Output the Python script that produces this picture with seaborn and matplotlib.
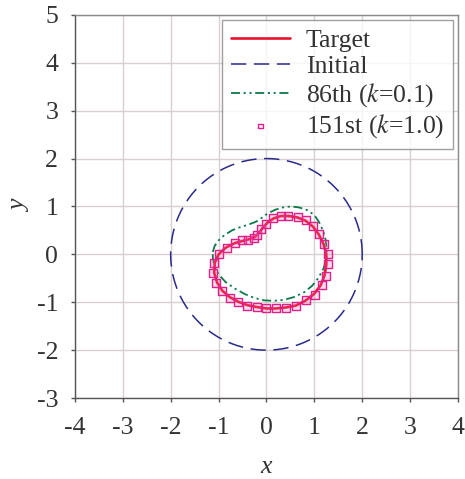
import matplotlib
matplotlib.use("Agg")

import matplotlib.pyplot as plt
import numpy as np
import pandas as pd
import seaborn as sns


# target shape (red line)
target_x = [0.47, 0.65, 0.82, 0.97, 1.09, 1.19, 1.25, 1.25, 1.21, 1.13, 0.99, 0.81,
            0.61, 0.40, 0.20, 0.00, -0.20, -0.40, -0.59, -0.77, -0.92, -1.03, -1.09,
            -1.08, -1.00, -0.85, -0.67, -0.50, -0.35, -0.24, -0.16, -0.08, 0.03, 0.15,
            0.30, 0.47]
target_y = [0.80, 0.77, 0.70, 0.58, 0.42, 0.22, 0.00, -0.22, -0.45, -0.65, -0.83, -0.97,
            -1.07, -1.11, -1.13, -1.13, -1.10, -1.06, -0.99, -0.89, -0.76, -0.59, -0.39,
            -0.18, 0.00, 0.14, 0.23, 0.28, 0.32, 0.36, 0.44, 0.55, 0.67, 0.75,
            0.80, 0.80]

# initial guess: circle around the origin
initial_radius = 2.0
initial_angles = np.linspace(0, 2 * np.pi, 361)

# 86th iteration (k=0.1)
it86_x = [-1.12, -1.08, -1.00, -0.88, -0.72, -0.57, -0.38, -0.22, -0.10, 0.02, 0.18,
          0.35, 0.50, 0.68, 0.86, 1.00, 1.10, 1.18, 1.23, 1.26, 1.25, 1.19, 1.08, 0.95,
          0.79, 0.58, 0.37, 0.15, -0.05, -0.25, -0.45, -0.65, -0.85, -1.00, -1.09,
          -1.12, -1.12]
it86_y = [0.05, 0.18, 0.29, 0.40, 0.50, 0.56, 0.62, 0.68, 0.76, 0.85, 0.93,
          0.98, 1.00, 0.98, 0.92, 0.82, 0.67, 0.50, 0.33, 0.12, -0.10, -0.30, -0.50, -0.66,
          -0.79, -0.89, -0.95, -0.97, -0.96, -0.91, -0.83, -0.72, -0.58, -0.42, -0.23,
          -0.06, 0.05]

# 151st iteration (k=1.0), square markers
it151_x = [0.46, 0.65, 0.82, 0.98, 1.10, 1.21, 1.28, 1.28, 1.24, 1.17, 1.01, 0.82,
           0.61, 0.40, 0.20, -0.01, -0.20, -0.40, -0.59, -0.77, -0.93, -1.05, -1.11,
           -1.09, -0.99, -0.83, -0.66, -0.52, -0.38, -0.26, -0.19, -0.12, -0.01, 0.13,
           0.30]
it151_y = [0.80, 0.78, 0.72, 0.59, 0.43, 0.22, 0.00, -0.21, -0.45, -0.65, -0.84, -0.96,
           -1.08, -1.11, -1.12, -1.12, -1.09, -1.07, -1.00, -0.91, -0.77, -0.59, -0.39,
           -0.18, 0.00, 0.14, 0.24, 0.29, 0.31, 0.34, 0.41, 0.52, 0.64, 0.75,
           0.80]

x_ticks = [-4, -3, -2, -1, 0, 1, 2, 3, 4]
y_ticks = [-3, -2, -1, 0, 1, 2, 3, 4, 5]

FS = 18.5
TEXT = "#333333"


def main():
    sns.set_style("white")
    plt.rcParams["font.family"] = ["Liberation Serif", "DejaVu Serif"]
    plt.rcParams["mathtext.fontset"] = "stix"

    fig = plt.figure(figsize=(4.65, 4.79), dpi=100)
    ax = fig.add_axes([0.161, 0.169, 0.824, 0.8])

    target = pd.DataFrame({"x": target_x, "y": target_y})
    initial = pd.DataFrame({"x": initial_radius * np.cos(initial_angles),
                            "y": initial_radius * np.sin(initial_angles)})
    it86 = pd.DataFrame({"x": it86_x, "y": it86_y})
    it151 = pd.DataFrame({"x": it151_x, "y": it151_y})

    sns.lineplot(data=target, x="x", y="y", sort=False, estimator=None, ax=ax,
                 color="#e8112d", linewidth=1.9, label="Target", zorder=3)
    sns.lineplot(data=initial, x="x", y="y", sort=False, estimator=None, ax=ax,
                 color="#2a2a8c", linewidth=1.1, label="Initial", zorder=2)
    ax.lines[-1].set_dashes((10, 5))
    sns.scatterplot(data=it151, x="x", y="y", ax=ax, marker="s", s=28,
                    facecolor=(0.95, 0.45, 0.72, 0.25), edgecolor="#e0208a",
                    linewidth=1.0, label="151st ($k$=1.0)", zorder=4)
    sns.lineplot(data=it86, x="x", y="y", sort=False, estimator=None, ax=ax,
                 color="#0b7a4b", linewidth=1.3, label="86th ($k$=0.1)", zorder=2)
    ax.lines[-1].set_dashes((5, 2, 1.2, 2, 1.2, 2))

    ax.set_xlim(-4, 4)
    ax.set_ylim(-3, 5)
    ax.set_xticks(x_ticks)
    ax.set_yticks(y_ticks)
    ax.set_xticklabels([str(t) for t in x_ticks])
    ax.set_yticklabels([str(t) for t in y_ticks])
    ax.grid(True, color="#d8cfcf", linewidth=1.0)
    ax.set_axisbelow(True)

    for side in ["top", "right"]:
        ax.spines[side].set_color("#8a8a8a")
    for side in ["left", "bottom"]:
        ax.spines[side].set_color("#555555")
    for sp in ax.spines.values():
        sp.set_linewidth(1.0)

    ax.tick_params(axis="both", direction="out", length=3, width=1, color="#555555",
                   labelsize=FS, labelcolor=TEXT, left=True, bottom=True)
    ax.tick_params(axis="x", pad=11)
    ax.tick_params(axis="y", pad=9)
    ax.set_xlabel("x", fontsize=FS, fontstyle="italic", color=TEXT, labelpad=12)
    ax.set_ylabel("y", fontsize=FS, fontstyle="italic", color=TEXT, labelpad=4)

    # legend order as in the reference
    handles, labels = ax.get_legend_handles_labels()
    order = ["Target", "Initial", "86th ($k$=0.1)", "151st ($k$=1.0)"]
    hmap = dict(zip(labels, handles))
    leg = ax.legend([hmap[l] for l in order], order, loc="upper right", fontsize=FS,
                    frameon=True, fancybox=False, edgecolor="#888888",
                    handlelength=2.3, borderaxespad=0.2, labelspacing=0.12,
                    handletextpad=0.6, borderpad=0.35, markerscale=0.6)
    leg.get_frame().set_linewidth(1.0)
    leg.legend_handles[3].set_facecolor("none")
    for t in leg.get_texts():
        t.set_color(TEXT)

    fig.savefig("out.png", dpi=100)
    plt.close(fig)


if __name__ == "__main__":
    main()
